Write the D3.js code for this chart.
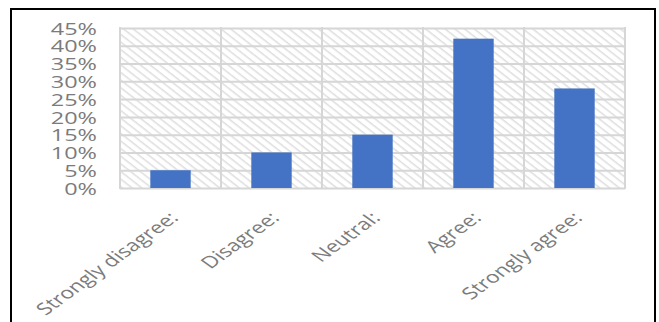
<!DOCTYPE html>
<html>
<head>
<meta charset="utf-8">
<script src="https://cdn.jsdelivr.net/npm/d3@7"></script>
<style>
  html, body { margin: 0; padding: 0; background: #fff; }
  svg { display: block; }
</style>
</head>
<body>
<svg id="chart" width="659" height="322"></svg>
<script>
// Survey responses, share of respondents per answer
const categories = ["Strongly disagree:", "Disagree:", "Neutral:", "Agree:", "Strongly agree:"];
const values = [0.05, 0.10, 0.15, 0.42, 0.28];
const yTicks = [0, 0.05, 0.10, 0.15, 0.20, 0.25, 0.30, 0.35, 0.40, 0.45];

const svg = d3.select("#chart");
const plot = { left: 120, right: 625, top: 28, bottom: 188 };
const textStretch = 1.38;
const labelColor = "#7b7b7b";
const gridColor = "#d6d6d6";

// Outer frame
svg.append("rect")
  .attr("x", 11).attr("y", 9)
  .attr("width", 644).attr("height", 330)
  .attr("fill", "#fff")
  .attr("stroke", "#000")
  .attr("stroke-width", 2);

// Downward diagonal hatch used as the plot background
const defs = svg.append("defs");
const pat = defs.append("pattern")
  .attr("id", "hatch")
  .attr("patternUnits", "userSpaceOnUse")
  .attr("width", 6).attr("height", 6)
  .attr("patternTransform", "rotate(38)");
pat.append("rect").attr("width", 6).attr("height", 6).attr("fill", "#fff");
pat.append("line")
  .attr("x1", 0).attr("y1", 0).attr("x2", 6).attr("y2", 0)
  .attr("stroke", "#dedede").attr("stroke-width", 3);

const x = d3.scaleBand()
  .domain(categories)
  .range([plot.left, plot.right])
  .paddingInner(0.6)
  .paddingOuter(0.3);

const y = d3.scaleLinear()
  .domain([0, 0.45])
  .range([plot.bottom, plot.top]);

svg.append("rect")
  .attr("x", plot.left).attr("y", plot.top)
  .attr("width", plot.right - plot.left)
  .attr("height", plot.bottom - plot.top)
  .attr("fill", "url(#hatch)");

// Horizontal gridlines
const yGrid = svg.append("g")
  .attr("transform", `translate(${plot.left},0)`)
  .call(d3.axisLeft(y).tickValues(yTicks).tickSize(-(plot.right - plot.left)).tickFormat(""));
yGrid.select(".domain").remove();
yGrid.selectAll(".tick line").attr("stroke", gridColor).attr("stroke-width", 2);

// Vertical gridlines at category boundaries
const bounds = categories.map(c => x(c) - x.step() * x.paddingInner() / 2);
bounds.push(plot.right);
svg.append("g").selectAll("line")
  .data(bounds)
  .join("line")
  .attr("x1", d => d).attr("x2", d => d)
  .attr("y1", plot.top - 1).attr("y2", plot.bottom + 1)
  .attr("stroke", gridColor).attr("stroke-width", 2);

// Bars
svg.append("g").selectAll("rect")
  .data(values)
  .join("rect")
  .attr("x", (d, i) => x(categories[i]))
  .attr("y", d => y(d))
  .attr("width", x.bandwidth())
  .attr("height", d => y(0) - y(d))
  .attr("fill", "#4472c4");

// Y axis labels
const yAxis = svg.append("g")
  .attr("transform", `translate(97,0)`)
  .call(d3.axisLeft(y).tickValues(yTicks).tickSize(0).tickPadding(0).tickFormat(d3.format(".0%")));
yAxis.select(".domain").remove();
yAxis.selectAll(".tick text")
  .attr("x", 0)
  .attr("dy", "0.36em")
  .attr("transform", `scale(${textStretch},1)`)
  .attr("text-anchor", "end")
  .attr("fill", labelColor)
  .style("font-family", "'Open Sans', sans-serif")
  .style("font-size", "17px");

// Category labels, slanted
const xAxis = svg.append("g")
  .attr("transform", `translate(0,${plot.bottom})`)
  .call(d3.axisBottom(x).tickSize(0).tickPadding(0));
xAxis.select(".domain").remove();
xAxis.selectAll(".tick text")
  .attr("y", 0)
  .attr("dy", 0)
  .attr("text-anchor", "end")
  .attr("transform", `translate(9,31) scale(${textStretch},1) rotate(-45)`)
  .attr("fill", labelColor)
  .style("font-family", "'Open Sans', sans-serif")
  .style("font-size", "16.5px");
</script>
</body>
</html>
